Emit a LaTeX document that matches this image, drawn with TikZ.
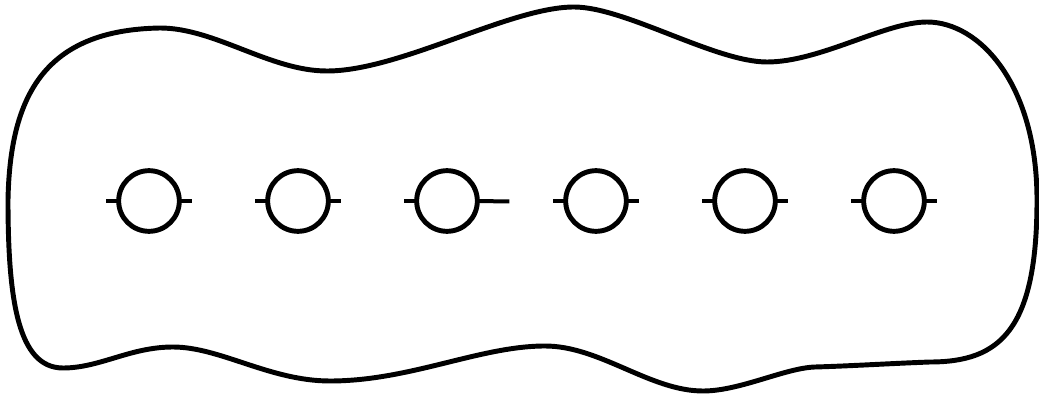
\documentclass[tikz,border=0pt]{standalone}
\begin{document}
\begin{tikzpicture}[x=0.75pt,y=-0.75pt,
  blob/.style={line width=3.7pt, line join=round},
  hole/.style={circle, draw, line width=3.7pt, minimum size=45.5pt, inner sep=0pt, outer sep=0pt},
  tick/.style={line width=3pt}]
\useasboundingbox (0,0) rectangle (1039,395);
\draw[blob] (8,200)
  .. controls (10,95) and (45,30) .. (160,28)
  .. controls (215,28) and (270,71) .. (327,71)
  .. controls (400,71) and (510,7) .. (574,7)
  .. controls (625,7) and (715,62) .. (767,62)
  .. controls (820,62) and (885,22) .. (927,22)
  .. controls (980,22) and (1037,85) .. (1037,200)
  .. controls (1037,330) and (1000,362) .. (930,362)
  .. controls (890,363.5) and (850,366) .. (815,367)
  .. controls (785,368) and (740,391) .. (703,391)
  .. controls (650,391) and (600,346) .. (545,346)
  .. controls (480,346) and (410,381) .. (330,381)
  .. controls (270,381) and (220,347) .. (173,347)
  .. controls (130,347) and (100,368) .. (63,368)
  .. controls (18,368) and (8,300) .. cycle;
\foreach \i/\x in {1/149,2/298,3/447,4/596,5/745,6/894} {
  \node[hole] (c\i) at (\x,201) {};
}
\foreach \i in {1,2,4,5,6} {
  \draw[tick] (c\i.west) -- ++(-13,0);
  \draw[tick] (c\i.east) -- ++(13,0);
}
\draw[tick] (c3.west) -- ++(-13,0);
\draw[tick] (c3.east) -- ++(32,0.5);
\end{tikzpicture}
\end{document}
